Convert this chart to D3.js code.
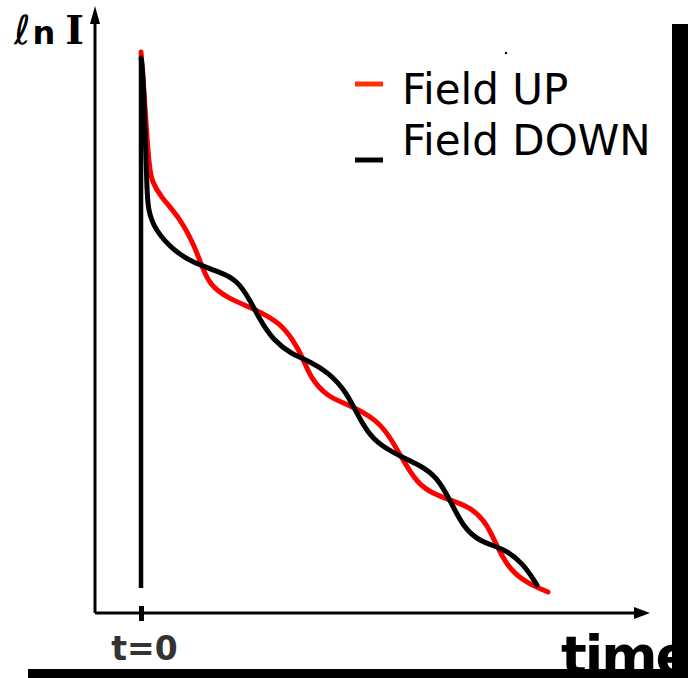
<!DOCTYPE html>
<html>
<head>
<meta charset="utf-8">
<script src="https://cdn.jsdelivr.net/npm/d3@7"></script>
<style>
  html, body { margin: 0; padding: 0; background: #fff; }
  svg { display: block; }
</style>
</head>
<body>
<svg id="chart" width="688" height="678"></svg>
<script>
// ---- data (arbitrary units: time after t=0, ln I) ----
const seriesNames = ["Field UP", "Field DOWN"];
const seriesColors = ["#ff0000", "#000000"];
const legendColors = ["#ff3300", "#000000"];

const upTime = [0, 3, 6, 9, 11, 19, 39, 54, 61, 69, 86, 116, 139, 152, 162, 169, 186, 209, 236, 249, 262, 276, 292, 312, 329, 346, 356, 369, 386, 407];
const upLnI  = [561, 523, 473, 441, 432, 417, 395, 366, 346, 328, 315, 303, 290, 273, 255, 236, 216, 208, 193, 176, 153, 130, 119, 112, 106, 90, 66, 43, 30, 21];

const downTime = [0, 2, 4, 6, 7, 14, 32, 52, 79, 96, 109, 119, 132, 152, 162, 189, 206, 219, 232, 252, 279, 296, 309, 322, 339, 362, 382, 396];
const downLnI  = [555, 543, 483, 423, 403, 383, 363, 350, 341, 333, 313, 293, 273, 258, 255, 240, 220, 193, 173, 160, 148, 136, 113, 86, 71, 65, 50, 28];

// vertical switch-on trace at t = 0
const switchTime = [0, 0];
const switchLnI = [25, 555];

const tickValues = [0];
const tickLabels = ["t=0"];
const xLabel = "time";

// ---- drawing ----
const svg = d3.select("#chart");
const x = d3.scaleLinear().domain([-46, 495]).range([95, 636]);
const y = d3.scaleLinear().domain([0, 594]).range([613, 19]);

const defs = svg.append("defs");
defs.append("marker").attr("id", "arrX")
  .attr("viewBox", "0 0 16 12").attr("refX", 2).attr("refY", 6)
  .attr("markerWidth", 16).attr("markerHeight", 12).attr("markerUnits", "userSpaceOnUse")
  .attr("orient", "auto")
  .append("path").attr("d", "M0,0 L16,6 L0,12 Z").attr("fill", "#000");
defs.append("marker").attr("id", "arrY")
  .attr("viewBox", "0 0 18 10").attr("refX", 2).attr("refY", 5)
  .attr("markerWidth", 18).attr("markerHeight", 10).attr("markerUnits", "userSpaceOnUse")
  .attr("orient", "auto")
  .append("path").attr("d", "M0,0 L18,5 L0,10 Z").attr("fill", "#000");

// axes
const xAxis = d3.axisBottom(x).tickValues(tickValues)
  .tickFormat((d, i) => tickLabels[i]).tickSizeOuter(0).tickSize(8).tickPadding(10);
const gx = svg.append("g").attr("transform", `translate(0,${y(0)})`).call(xAxis);
gx.select(".domain").attr("stroke", "#000").attr("stroke-width", 3)
  .attr("d", `M${x(-46)},0H${x(495)}`)
  .attr("marker-end", "url(#arrX)");
gx.selectAll(".tick line").attr("stroke", "#000").attr("stroke-width", 5)
  .attr("y1", -7).attr("y2", 8);
gx.selectAll(".tick text")
  .attr("font-family", "DejaVu Sans, sans-serif").attr("font-weight", "bold")
  .attr("font-size", 33).attr("fill", "#333").attr("dx", 3).attr("dy", "0.88em");

const yAxis = d3.axisLeft(y).tickValues([]).tickSizeOuter(0);
const gy = svg.append("g").attr("transform", `translate(${x(-46)},0)`).call(yAxis);
gy.select(".domain").attr("stroke", "#000").attr("stroke-width", 3)
  .attr("d", `M0,${y(0)}V${y(594) + 3}`)
  .attr("marker-end", "url(#arrY)");

// y label
const yl = svg.append("text").attr("x", 14).attr("y", 44)
  .attr("font-size", 40).attr("fill", "#000");
yl.append("tspan").attr("font-family", "DejaVu Sans, sans-serif").attr("font-weight", "normal").attr("font-style", "italic").text("ℓ");
yl.append("tspan").attr("font-family", "DejaVu Sans, sans-serif").attr("font-weight", "bold").attr("font-size", 32).attr("dx", 2).text("n");
yl.append("tspan").attr("font-family", "DejaVu Serif, serif").attr("font-weight", "bold").attr("dx", 10).text("I");

// curves
const line = d3.line().x(d => x(d[0])).y(d => y(d[1])).curve(d3.curveBasis);
const upData = upTime.map((t, i) => [t, upLnI[i]]);
const downData = downTime.map((t, i) => [t, downLnI[i]]);
const switchData = switchTime.map((t, i) => [t, switchLnI[i]]);

svg.append("path").datum(upData).attr("d", line)
  .attr("fill", "none").attr("stroke", seriesColors[0]).attr("stroke-width", 5)
  .attr("stroke-linecap", "round").attr("stroke-linejoin", "round");
svg.append("path").datum(downData).attr("d", line)
  .attr("fill", "none").attr("stroke", seriesColors[1]).attr("stroke-width", 5)
  .attr("stroke-linecap", "round").attr("stroke-linejoin", "round");
svg.append("path").datum(switchData).attr("d", d3.line().x(d => x(d[0])).y(d => y(d[1])))
  .attr("fill", "none").attr("stroke", "#000").attr("stroke-width", 4.5);

// legend
const legY = [84, 160];
const legTextY = [104, 155];
seriesNames.forEach((name, i) => {
  svg.append("rect").attr("x", 355).attr("y", legY[i] - 2.5).attr("width", 28).attr("height", 5)
    .attr("fill", legendColors[i]);
  svg.append("text").attr("x", 402).attr("y", legTextY[i])
    .attr("font-family", "DejaVu Sans, sans-serif").attr("font-size", 42).attr("fill", "#000")
    .text(name);
});
svg.append("circle").attr("cx", 506).attr("cy", 53).attr("r", 1.2).attr("fill", "#000");

// x label (clipped by frame bars, as in the original)
svg.append("text").attr("x", 561).attr("y", 674)
  .attr("font-family", "DejaVu Sans, sans-serif").attr("font-weight", "bold")
  .attr("font-size", 54).attr("letter-spacing", -2).attr("fill", "#000").text(xLabel);

// frame bars
svg.append("rect").attr("x", 672).attr("y", 24).attr("width", 16).attr("height", 654).attr("fill", "#000");
svg.append("rect").attr("x", 28).attr("y", 669).attr("width", 660).attr("height", 9).attr("fill", "#000");
</script>
</body>
</html>
